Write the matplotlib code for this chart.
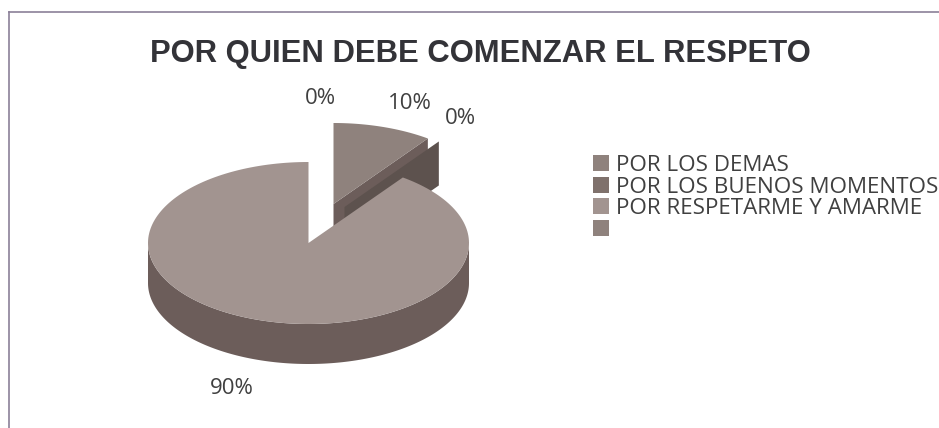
import numpy as np
import matplotlib
matplotlib.use("Agg")
import matplotlib.pyplot as plt
from matplotlib.patches import Polygon

W, H = 939, 428

title = "POR QUIEN DEBE COMENZAR EL RESPETO"
categories = ["POR LOS DEMAS", "POR LOS BUENOS MOMENTOS", "POR RESPETARME Y AMARME", ""]
values = [10, 0, 90, 0]
labels = ["10%", "0%", "90%", "0%"]

top_colors = ["#8f827d", "#7f716c", "#a29490", "#8f827d"]
side_colors = ["#6c5d5a", "#5d524e", "#6c5d5a", "#6c5d5a"]
legend_colors = ["#8f827d", "#7f716c", "#a29490", "#8f827d"]

# pie geometry, in pixels of the picture
cx, cy = 308.5, 243
rx, ry = 160.5, 81
depth = 40
# how far each slice is pulled out
explode = [(25, -39), (36, -36), (0, 0), (0, 0)]
label_pos = [(410, 103), (460, 118), (232, 388), (320, 98)]
legend_y = [163, 184.5, 205.5, 228]
legend_text_y = [165.5, 187, 208, 230]

fig = plt.figure(figsize=(W / 100, H / 100), dpi=100)
ax = fig.add_axes([0, 0, 1, 1])
ax.set_xlim(0, W)
ax.set_ylim(H, 0)
ax.axis("off")


def rim(c, r1, r2, a, b):
    t = np.radians(np.linspace(a, b, 200))
    return np.column_stack([c[0] + r1 * np.sin(t), c[1] - r2 * np.cos(t)])


# turn the values into angles, clockwise from 12 o'clock
edges = np.cumsum([0] + values) * 3.6

# 0% slice: only its cut face shows, it takes the angle of the 10% slice end
a = edges[1]
tip = np.array([np.sin(np.radians(a)) * rx, -np.cos(np.radians(a)) * ry])

# cut face of the 10% slice
c0 = np.array([cx + explode[0][0], cy + explode[0][1]])
ax.add_patch(Polygon([c0, c0 + tip, c0 + tip + (0, depth), c0 + (0, depth)],
                     fc=side_colors[0], ec="none", zorder=2))
# cut face of the 0% slice
c1 = np.array([cx + explode[1][0], cy + explode[1][1]])
ax.add_patch(Polygon([c1, c1 + tip, c1 + tip + (0, depth + 4), c1 + (0, depth + 4)],
                     fc=side_colors[1], ec="none", zorder=3))
# top of the 10% slice
ax.add_patch(Polygon(np.vstack([c0, rim(c0, rx, ry, edges[0], edges[1])]),
                     fc=top_colors[0], ec="none", zorder=4))

# 90% slice, outer wall then top
front = rim((cx, cy), rx, ry, 90, 270)
ax.add_patch(Polygon(np.vstack([front, (front + (0, depth))[::-1]]),
                     fc=side_colors[2], ec="none", zorder=5))
ax.add_patch(Polygon(np.vstack([(cx, cy), rim((cx, cy), rx, ry, edges[1], edges[3])]),
                     fc=top_colors[2], ec="none", zorder=6))

# frame
frame = "#8b8098"
ax.plot([8.5, 8.5], [H, 12], color=frame, lw=1.2, zorder=1)
ax.plot([8.5, W], [12, 12], color=frame, lw=1.2, zorder=1)

ax.text(480, 54, title, ha="center", va="center", fontsize=22.3, fontweight="bold",
        family="Liberation Sans", color="#333338")

for lab, (x, y) in zip(labels, label_pos):
    ax.text(x, y, lab, ha="center", va="center", fontsize=16,
            family="Open Sans", color="#404040")

for name, col, y, ty in zip(categories, legend_colors, legend_y, legend_text_y):
    ax.add_patch(Polygon([(593, y - 8), (609, y - 8), (609, y + 8), (593, y + 8)],
                         fc=col, ec="none"))
    ax.text(616, ty, name, ha="left", va="center", fontsize=16.15,
            family="Open Sans", color="#404040")

fig.savefig("out.png", dpi=100)
